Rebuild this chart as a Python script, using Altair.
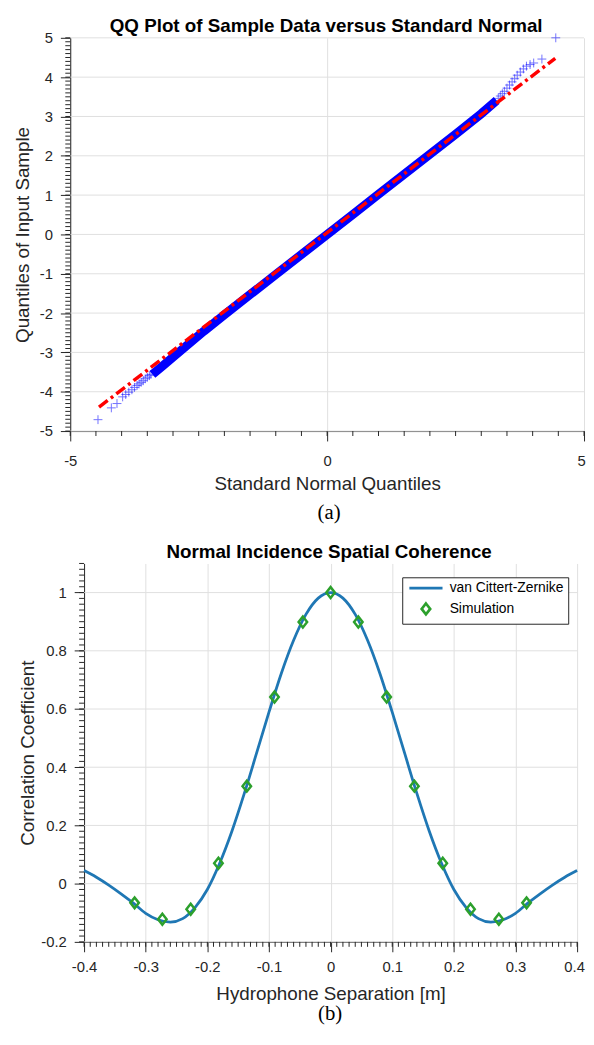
import altair as alt
import pandas as pd

# ---------------- Panel (a): QQ plot ----------------
band_x = [-3.40, -3.20, -3.00, -2.70, -2.40, -2.00, -1.50, -1.00, -0.50, 0.00,
          0.50, 1.00, 1.50, 2.00, 2.50, 3.00, 3.30]
band_y = [-3.56, -3.34, -3.12, -2.79, -2.46, -2.04, -1.53, -1.02, -0.51, 0.00,
          0.51, 1.02, 1.53, 2.04, 2.55, 3.07, 3.41]
tail_lo_x = [-4.46, -4.20, -4.09, -3.98, -3.92, -3.86, -3.80, -3.75, -3.70,
             -3.66, -3.62, -3.58, -3.54, -3.50, -3.46, -3.43]
tail_lo_y = [-4.71, -4.41, -4.30, -4.13, -4.07, -4.01, -3.95, -3.89, -3.84,
             -3.80, -3.76, -3.72, -3.67, -3.63, -3.59, -3.56]
tail_hi_x = [3.33, 3.37, 3.41, 3.45, 3.50, 3.55, 3.60, 3.65, 3.70, 3.76,
             3.82, 3.88, 3.95, 4.02, 4.18, 4.45]
tail_hi_y = [3.46, 3.52, 3.58, 3.64, 3.72, 3.80, 3.88, 3.96, 4.05, 4.13,
             4.21, 4.28, 4.32, 4.36, 4.46, 5.00]
ref_x = [-4.44, 4.44]
ref_y = [-4.39, 4.48]
qq_x_ticks = [-5, 0, 5]
qq_y_ticks = [-5, -4, -3, -2, -1, 0, 1, 2, 3, 4, 5]
qq_x_minor = [round(-5 + 0.5 * i, 2) for i in range(21)]
qq_y_minor = [round(-5 + 0.1 * i, 2) for i in range(101)]

# ---------------- Panel (b): spatial coherence ----------------
vcz_x = [-0.40, -0.38, -0.36, -0.34, -0.32, -0.30, -0.28, -0.26, -0.24, -0.22,
         -0.20, -0.18, -0.16, -0.14, -0.12, -0.10, -0.08, -0.06, -0.04, -0.02,
         0.00, 0.02, 0.04, 0.06, 0.08, 0.10, 0.12, 0.14, 0.16, 0.18,
         0.20, 0.22, 0.24, 0.26, 0.28, 0.30, 0.32, 0.34, 0.36, 0.38, 0.40]
vcz_y = [0.045, 0.022, -0.005, -0.035, -0.067, -0.102, -0.124, -0.132, -0.120, -0.082,
         -0.020, 0.070, 0.181, 0.310, 0.449, 0.589, 0.722, 0.836, 0.925, 0.981,
         1.000, 0.981, 0.925, 0.836, 0.722, 0.589, 0.449, 0.310, 0.181, 0.070,
         -0.020, -0.082, -0.120, -0.132, -0.124, -0.102, -0.067, -0.035, -0.005, 0.022, 0.045]
sim_x = [-0.318, -0.273, -0.227, -0.182, -0.136, -0.091, -0.045, 0.0,
         0.045, 0.091, 0.136, 0.182, 0.227, 0.273, 0.318]
sim_y = [-0.066, -0.122, -0.088, 0.070, 0.335, 0.641, 0.899, 1.000,
         0.899, 0.641, 0.335, 0.070, -0.088, -0.122, -0.066]
series_names = ["van Cittert-Zernike", "Simulation"]
coh_x_ticks = [-0.4, -0.3, -0.2, -0.1, 0, 0.1, 0.2, 0.3, 0.4]
coh_y_ticks = [-0.2, 0, 0.2, 0.4, 0.6, 0.8, 1]
coh_x_minor = [round(-0.4 + 0.01 * i, 3) for i in range(81)]
coh_y_minor = [round(-0.2 + 0.02 * i, 3) for i in range(66)]

captions = ["(a)", "(b)"]
titles = ["QQ Plot of Sample Data versus Standard Normal", "Normal Incidence Spatial Coherence"]

# ---------------- styling ----------------
FONT = "Liberation Sans"
SERIF = "Liberation Serif"
AX = "#262626"
GRID = "#e0e0e0"
SA = 8                     # panel (a) y axis sits 8px inside its group
SB = 22                    # panel (b) y axis sits 22px inside its group
W1, H1 = 520 + SA, 398
W2, H2 = 499 + SB, 383
PLUS = "M-1,0L1,0M0,-1L0,1"
DIAMOND = "M0,-1.15L0.9,0L0,1.15L-0.9,0Z"
LINESYM = "M-3.5,0L3.5,0"


def axis(values, title, label_pad, tpos, horizontal, edge_value=None, grid=True, offset=0):
    kw = dict(values=values, labelExpr="'' + datum.value", title=title,
              tickSize=10, tickWidth=1, tickColor=AX, domainColor=AX, domainWidth=1,
              labelFont=FONT, labelFontSize=15, labelColor=AX, labelPadding=label_pad,
              labelFlush=False, labelOverlap=False,
              titleFont=FONT, titleFontSize=19, titleFontWeight="normal", titleColor=AX,
              titleBaseline="alphabetic", grid=grid, gridColor=GRID, gridWidth=1, offset=offset)
    if horizontal:
        kw["titleY"] = tpos
    else:
        kw["titleX"] = tpos
    if edge_value is not None:
        kw["labelOffset"] = {"condition": {"test": f"datum.value === {edge_value}", "value": -3}, "value": 0}
    return alt.Axis(**kw)


def text_layer(txt, x, y, size, weight="normal", font=FONT):
    return alt.Chart(pd.DataFrame({"t": [txt]})).mark_text(
        font=font, fontSize=size, fontWeight=weight, align="center", baseline="alphabetic",
        color="black").encode(text="t:N", x=alt.value(x), y=alt.value(y))


# ---- chart (a)
xs_a = alt.Scale(domain=[-5, 5], range=[SA, W1], nice=False, zero=False)
ys_a = alt.Scale(domain=[-5, 5], nice=False, zero=False)
xax_a = axis(qq_x_ticks, "Standard Normal Quantiles", 13, 59, True, edge_value=5)
yax_a = axis(qq_y_ticks, "Quantiles of Input Sample", 8, -42, False, grid=False, offset=-SA)
X_a = alt.X("x:Q", scale=xs_a, axis=xax_a)
Y_a = alt.Y("y:Q", scale=ys_a, axis=yax_a)

hgrid_a = alt.Chart(pd.DataFrame({"y": qq_y_ticks})).mark_rule(color=GRID, strokeWidth=1).encode(
    y=Y_a, x=alt.value(SA), x2=alt.value(W1))
minor_xa = alt.Chart(pd.DataFrame({"x": qq_x_minor})).mark_rule(color=AX, strokeWidth=1).encode(
    x=X_a, y=alt.value(H1), y2=alt.value(H1 + 5))
minor_ya = alt.Chart(pd.DataFrame({"y": qq_y_minor})).mark_rule(color=AX, strokeWidth=1).encode(
    y=Y_a, x=alt.value(SA - 5), x2=alt.value(SA))
band = alt.Chart(pd.DataFrame({"x": band_x, "y": band_y})).mark_line(
    color="#0000ff", strokeWidth=9).encode(x=X_a, y=Y_a)
tails = alt.Chart(pd.DataFrame({"x": tail_lo_x + tail_hi_x, "y": tail_lo_y + tail_hi_y})).mark_point(
    shape=PLUS, size=81, filled=False, color="#0000ff", opacity=0.55, strokeWidth=1).encode(x=X_a, y=Y_a)
refline = alt.Chart(pd.DataFrame({"x": ref_x, "y": ref_y})).mark_line(
    color="#ff0000", strokeWidth=3.5, strokeDash=[11, 4, 3, 4]).encode(x=X_a, y=Y_a)

chart_a = alt.layer(
    hgrid_a, minor_xa, minor_ya, band, tails, refline,
    text_layer(titles[0], 267, -6, 19, "bold"),
    text_layer(captions[0], 270, H1 + 89, 21, font=SERIF),
).properties(width=W1, height=H1)

# ---- chart (b)
xs_b = alt.Scale(domain=[-0.4, 0.4], range=[SB, W2], nice=False, zero=False)
ys_b = alt.Scale(domain=[-0.2, 1.1], nice=False, zero=False)
xax_b = axis(coh_x_ticks, "Hydrophone Separation [m]", 8, 58, True, edge_value=0.4)
yax_b = axis(coh_y_ticks, "Correlation Coefficient", 8, -51, False, grid=False, offset=-SB)
X_b = alt.X("x:Q", scale=xs_b, axis=xax_b)
Y_b = alt.Y("y:Q", scale=ys_b, axis=yax_b)

legend = alt.Legend(orient="none", legendX=407 - 63, legendY=14, title=None, padding=4,
                    strokeColor=AX, fillColor="white", labelFont=FONT, labelFontSize=14,
                    labelColor="black", symbolStrokeWidth=2.7, symbolSize=92,
                    symbolOffset=13, labelOffset=17, rowPadding=3)
color_enc = alt.Color("series:N", scale=alt.Scale(domain=series_names, range=["#1f77b4", "#2ca02c"]),
                      legend=legend)
shape_enc = alt.Shape("series:N", scale=alt.Scale(domain=series_names, range=[LINESYM, DIAMOND]),
                      legend=legend)

hgrid_b = alt.Chart(pd.DataFrame({"y": coh_y_ticks})).mark_rule(color=GRID, strokeWidth=1).encode(
    y=Y_b, x=alt.value(SB), x2=alt.value(W2))
minor_xb = alt.Chart(pd.DataFrame({"x": coh_x_minor})).mark_rule(color=AX, strokeWidth=1).encode(
    x=X_b, y=alt.value(H2), y2=alt.value(H2 + 5))
minor_yb = alt.Chart(pd.DataFrame({"y": coh_y_minor})).mark_rule(color=AX, strokeWidth=1).encode(
    y=Y_b, x=alt.value(SB - 5), x2=alt.value(SB))
curve = alt.Chart(pd.DataFrame({"x": vcz_x, "y": vcz_y, "series": series_names[0]})).mark_line(
    strokeWidth=2.8, interpolate="monotone").encode(x=X_b, y=Y_b, color=color_enc)
sim = alt.Chart(pd.DataFrame({"x": sim_x, "y": sim_y, "series": series_names[1]})).mark_point(
    filled=False, strokeWidth=2.5, size=92, opacity=1).encode(x=X_b, y=Y_b, color=color_enc, shape=shape_enc)

chart_b = alt.layer(
    hgrid_b, minor_xb, minor_yb, curve, sim,
    text_layer(titles[1], 270, -6, 19, "bold"),
    text_layer(captions[1], 271, H2 + 79, 21, font=SERIF),
).properties(width=W2, height=H2)

chart = alt.vconcat(chart_a, chart_b, spacing=20).resolve_scale(
    x="independent", y="independent", color="independent", shape="independent"
).resolve_legend(color="independent", shape="independent").properties(
    padding={"left": 6, "top": 3, "right": 0, "bottom": 0}
).configure(
    font=FONT, background="white", view=alt.ViewConfig(stroke=None)
)

chart.save("out.html", embed_options={"renderer": "svg", "actions": False})
